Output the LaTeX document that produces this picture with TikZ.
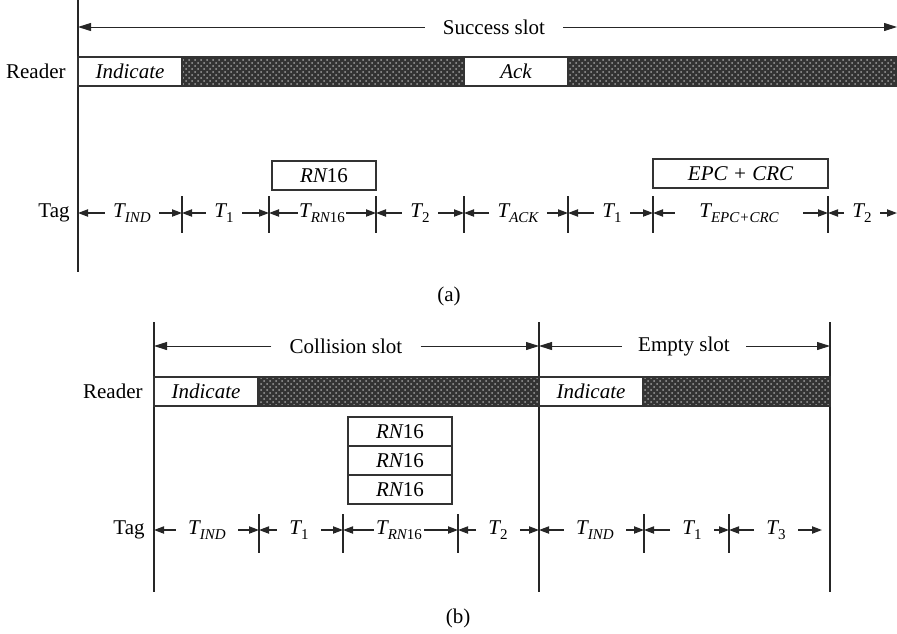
\documentclass[tikz,border=0pt]{standalone}
\usepackage{fontspec}
\setmainfont{Liberation Serif}
\usetikzlibrary{arrows.meta,patterns}
\newcommand{\Tsub}[1]{\textit{T}\kern-0.6pt\raisebox{-0.5ex}{\fontsize{7.5}{8}\selectfont #1}}
\begin{document}
\begin{tikzpicture}[x=0.5pt,y=-0.5pt,
  every node/.style={font=\fontsize{10.5}{12}\selectfont},
  vline/.style={line width=0.6pt, draw=black!85},
  tickline/.style={line width=0.6pt, draw=black!85},
  dim/.style={line width=0.7pt, draw=black!85, -{Triangle[length=5pt,width=3.6pt]}},
  slotdim/.style={line width=0.5pt, draw=black!85, -{Triangle[length=6.5pt,width=4pt]}},
  tl/.style={inner xsep=4pt, inner ysep=1pt},
  sl/.style={inner xsep=9pt},
  bar/.style={draw=black!80, line width=0.6pt},
  hatch/.style={pattern=crosshatch dots, pattern color=black!38},
  wbox/.style={draw=black!80, fill=white, line width=0.6pt, minimum width=52pt, minimum height=14.5pt, inner sep=0pt, font=\fontsize{10.5}{12}\selectfont\itshape},
  side/.style={anchor=east, inner sep=1pt},
  captxt/.style={inner sep=1pt}
]
\useasboundingbox (0,0) rectangle (897,633);

% ================= (a) =================
\draw[vline] (78,0) -- (78,272);
\coordinate (aSL) at (78,27);
\coordinate (aSR) at (897,27);
\node[sl] (succ) at (494,27) {Success slot};
\draw[slotdim] (succ.west) -- (aSL);
\draw[slotdim] (succ.east) -- (aSR);

\fill[black!80] (78,57) rectangle (897,86);
\fill[hatch] (78,57) rectangle (897,86);
\draw[bar] (78,57) rectangle (897,86);
\node[wbox] (indA) at (130,71.5) {Indicate};
\node[wbox] (ack) at (516,71.5) {Ack};
\node[side] (readerA) at (68,71) {Reader};

\node[wbox] (rnA) at (324,175.5) {RN\upshape 16};
\node[wbox, minimum width=87.5pt] (epc) at (740.5,173.5) {EPC + CRC};

\node[side] (tagA) at (72,213) {Tag};
\foreach \n/\x in {1/182,2/269,3/376,4/464,5/568,6/653,7/828}{
  \draw[tickline] (\x,196) -- (\x,233);
  \coordinate (a\n) at (\x,213);
}
\coordinate (a0) at (78,213);
\coordinate (a8) at (897,213);

\node[tl] (tA1) at (132,213) {\Tsub{\itshape IND}};
\node[tl] (tA2) at (224,213) {\Tsub{1}};
\node[tl, inner xsep=0.5pt] (tA3) at (322,213) {\Tsub{\itshape RN\upshape 16}};
\node[tl] (tA4) at (420,213) {\Tsub{2}};
\node[tl] (tA5) at (518,213) {\Tsub{\itshape ACK}};
\node[tl] (tA6) at (612,213) {\Tsub{1}};
\node[tl, inner xsep=12pt] (tA7) at (739,213) {\Tsub{\itshape EPC+CRC}};
\node[tl] (tA8) at (862,213) {\Tsub{2}};
\foreach \i/\l/\r in {1/0/1,2/1/2,3/2/3,4/3/4,5/4/5,6/5/6,7/6/7,8/7/8}{
  \draw[dim] (tA\i.west) -- (a\l);
  \draw[dim] (tA\i.east) -- (a\r);
}
\node[captxt] (capA) at (449,296) {(a)};

% ================= (b) =================
\draw[vline] (154,322) -- (154,592);
\draw[vline] (539,322) -- (539,592);
\draw[vline] (830,322) -- (830,592);
\coordinate (bS0) at (154,346);
\coordinate (bS1) at (539,346);
\coordinate (bS2) at (830,346);
\node[sl] (coll) at (346,346) {Collision slot};
\node[sl, inner xsep=8pt] (empty) at (684,346) {Empty slot};
\draw[slotdim] (coll.west) -- (bS0);
\draw[slotdim] (coll.east) -- (bS1);
\draw[slotdim] (empty.west) -- (bS1);
\draw[slotdim] (empty.east) -- (bS2);

\fill[black!80] (154,377) rectangle (830,406);
\fill[hatch] (154,377) rectangle (830,406);
\draw[bar] (154,377) rectangle (830,406);
\node[wbox] (indB1) at (206,391.5) {Indicate};
\node[wbox] (indB2) at (591,391.5) {Indicate};
\node[side] (readerB) at (145,391) {Reader};

\node[wbox] (rnB1) at (400,431.5) {RN\upshape 16};
\node[wbox] (rnB2) at (400,460.5) {RN\upshape 16};
\node[wbox] (rnB3) at (400,489.5) {RN\upshape 16};

\node[side] (tagB) at (147,530) {Tag};
\foreach \n/\x in {1/259,2/343,3/458,5/644,6/729}{
  \draw[tickline] (\x,514) -- (\x,553);
}
\foreach \n/\x in {0/154,1/259,2/343,3/458,4/539,5/644,6/729}{
  \coordinate (b\n) at (\x,530);
}
\coordinate (b7) at (822,530);

\node[tl, inner xsep=6pt] (tB1) at (207,530) {\Tsub{\itshape IND}};
\node[tl, inner xsep=6pt] (tB2) at (299,530) {\Tsub{1}};
\node[tl, inner xsep=1pt] (tB3) at (399,530) {\Tsub{\itshape RN\upshape 16}};
\node[tl, inner xsep=6pt] (tB4) at (498,530) {\Tsub{2}};
\node[tl, inner xsep=6pt] (tB5) at (595,530) {\Tsub{\itshape IND}};
\node[tl, inner xsep=6pt] (tB6) at (692,530) {\Tsub{1}};
\node[tl, inner xsep=6pt] (tB7) at (776,530) {\Tsub{3}};
\foreach \i/\l/\r in {1/0/1,2/1/2,3/2/3,4/3/4,5/4/5,6/5/6,7/6/7}{
  \draw[dim] (tB\i.west) -- (b\l);
  \draw[dim] (tB\i.east) -- (b\r);
}
\node[captxt] (capB) at (458,618) {(b)};
\end{tikzpicture}
\end{document}
